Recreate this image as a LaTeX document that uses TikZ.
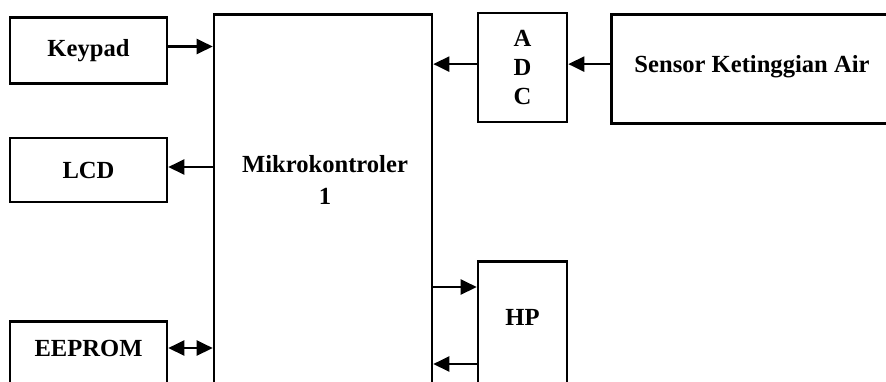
\documentclass[tikz,border=0pt]{standalone}
\usepackage{fontspec}
\setmainfont{Liberation Serif}
\usetikzlibrary{arrows.meta,calc}

\begin{document}
\begin{tikzpicture}[
    x=0.5pt, y=-0.5pt,
    kotak/.style={draw, line width=1.3pt, inner sep=0pt},
    teks/.style={font=\fontsize{12.3}{14.5}\selectfont\bfseries, inner sep=0pt, align=center},
    panah/.style={line width=1.2pt, -{Triangle[length=8pt,width=7.5pt]}},
    dua_arah/.style={line width=1.2pt, {Triangle[length=8pt,width=7.5pt]}-{Triangle[length=8pt,width=7.5pt]}}
]
    \useasboundingbox (0,0) rectangle (886,381);
    \clip (0,0) rectangle (886,381);

    % Blok kiri
    \node[kotak, teks, minimum width=78.5pt, minimum height=33pt] (keypad) at (88.5,50.5) {Keypad};
    \node[kotak, teks, minimum width=78.5pt, minimum height=32pt] (lcd) at (88.5,170) {LCD};
    \node[kotak, minimum width=78.5pt, minimum height=60pt, anchor=north] (eeprom) at (88.5,320) {};
    \node[teks] (eepromtxt) at (88.5,348) {EEPROM};

    % Mikrokontroler
    \node[kotak, minimum width=109pt, minimum height=250pt, anchor=north] (mcu) at (323,13) {};
    \node[teks] (mcutxt) at (325,180) {Mikrokontroler\\[1.5pt]1};

    % Blok kanan
    \node[kotak, teks, minimum width=44.5pt, minimum height=54.5pt] (adc) at (522.5,67.5) {A\\D\\C};
    \node[kotak, minimum width=200pt, minimum height=54.5pt, anchor=north west] (sensor) at (610,13) {};
    \node[teks] (sensortxt) at (752,67) {Sensor Ketinggian Air};
    \node[kotak, minimum width=44.5pt, minimum height=100pt, anchor=north] (hp) at (522.5,260) {};
    \node[teks] (hptxt) at (522.5,317) {HP};

    % Panah
    \draw[panah] ([yshift=2pt]keypad.east) -- ([yshift=2pt]keypad.east -| mcu.west);
    \draw[panah] ([yshift=1.5pt]lcd.east -| mcu.west) -- ([yshift=1.5pt]lcd.east);
    \draw[dua_arah] (eepromtxt -| eeprom.east) -- (eepromtxt -| mcu.west);
    \draw[panah] ([yshift=1.7pt]adc.west) -- ([yshift=1.7pt]adc.west -| mcu.east);
    \draw[panah] ([yshift=1.7pt]sensor.west |- adc.west) -- ([yshift=1.7pt]adc.east);
    \draw[panah] ($(mcu.east |- hp.north)+(0,27)$) -- ($(hp.north west)+(0,27)$);
    \draw[panah] ($(hp.north west)+(0,104)$) -- ($(mcu.east |- hp.north)+(0,104)$);

\end{tikzpicture}
\end{document}
